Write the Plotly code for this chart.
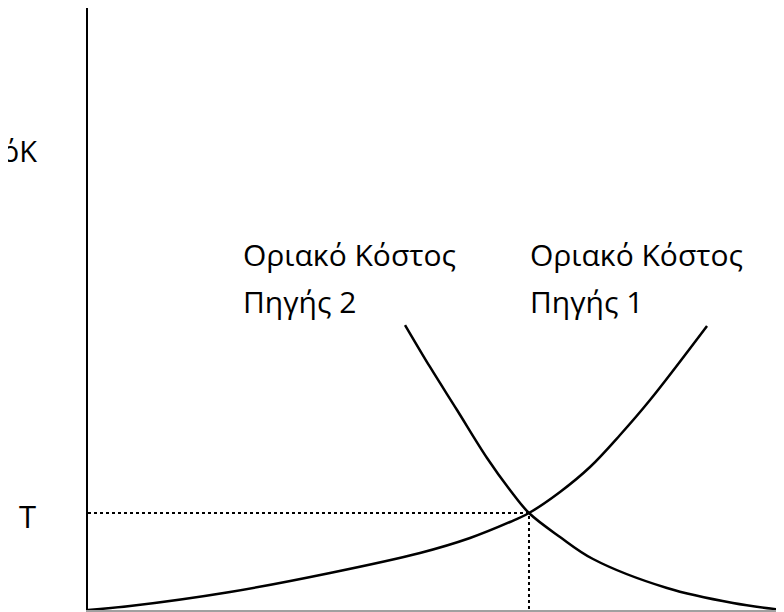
import sys
import plotly.graph_objects as go

# Marginal cost curves (arbitrary units)
mc1_q = [0, 6.03, 20.4, 34.77, 47.7, 54.89, 60.63, 63.36, 67.82, 72.13, 76.44, 80.75, 88.94]
mc1_cost = [0, 0.66, 2.99, 6.15, 9.47, 11.96, 14.62, 16.11, 19.6, 23.75, 29.07, 34.88, 47.18]

mc2_q = [45.55, 49.14, 53.02, 57.33, 60.63, 63.36, 67.82, 72.56, 83.19, 92.67, 99.86]
mc2_cost = [47.34, 40.37, 33.22, 25.25, 19.93, 16.11, 12.13, 8.47, 3.65, 1.16, 0]

# Equilibrium point
eq_q = 63.36
eq_cost = 16.11

label_top = ['Οριακό Κόστος', 'Οριακό Κόστος']
label_bottom = ['Πηγής 2', 'Πηγής 1']
axis_label = 'ΟριακόΚ'
level_label = 'T'

FONT = 'Open Sans'


def px_to_paper(px: float, py: float) -> tuple:
    # plot area on screen: x 88..784, y 8..610
    return (px - 88) / 696, (610 - py) / 602


def main() -> int:
    fig = go.Figure()

    # Dotted guide lines at the crossing point
    fig.add_trace(go.Scatter(
        x=[0, eq_q, eq_q], y=[eq_cost, eq_cost, 0],
        mode='lines', line=dict(color='#000', width=2, dash='dot'),
        showlegend=False, hoverinfo='skip'))

    fig.add_trace(go.Scatter(
        x=mc1_q, y=mc1_cost, mode='lines',
        line=dict(color='#000', width=2.5, shape='spline', smoothing=1),
        showlegend=False))
    fig.add_trace(go.Scatter(
        x=mc2_q, y=mc2_cost, mode='lines',
        line=dict(color='#000', width=2.5, shape='spline', smoothing=1),
        showlegend=False))

    annotations = []
    # curve labels, one annotation per line so spacing can match
    for i, left_px in enumerate([241, 528]):
        for text, py in [(label_top[i], 254), (label_bottom[i], 301)]:
            ax, ay = px_to_paper(left_px, py)
            annotations.append(dict(
                x=ax, y=ay, xref='paper', yref='paper', text=text,
                xanchor='left', yanchor='middle', showarrow=False,
                font=dict(family=FONT, size=30, color='#000')))

    ax, ay = px_to_paper(39, 150)
    annotations.append(dict(
        x=ax, y=ay, xref='paper', yref='paper', text=axis_label,
        xanchor='right', yanchor='middle', showarrow=False,
        font=dict(family=FONT, size=29, color='#000')))

    ax, ay = px_to_paper(28, 516)
    annotations.append(dict(
        x=ax, y=ay, xref='paper', yref='paper', text=level_label,
        xanchor='center', yanchor='middle', showarrow=False,
        font=dict(family=FONT, size=31, color='#000')))

    # page body has an 8px margin, so shrink the figure and shift margins
    fig.update_layout(
        width=776, height=604,
        margin=dict(l=80, r=0, t=0, b=2),
        paper_bgcolor='white', plot_bgcolor='white',
        xaxis=dict(range=[0, 100], showgrid=False, zeroline=False,
                   showticklabels=False, ticks='',
                   showline=True, linecolor='#a0a0a0', linewidth=2),
        yaxis=dict(range=[0, 100], showgrid=False, zeroline=False,
                   showticklabels=False, ticks='',
                   showline=True, linecolor='#000', linewidth=2),
        annotations=annotations,
    )

    fig.write_html('out.html')
    return 0


if __name__ == '__main__':
    sys.exit(main())
